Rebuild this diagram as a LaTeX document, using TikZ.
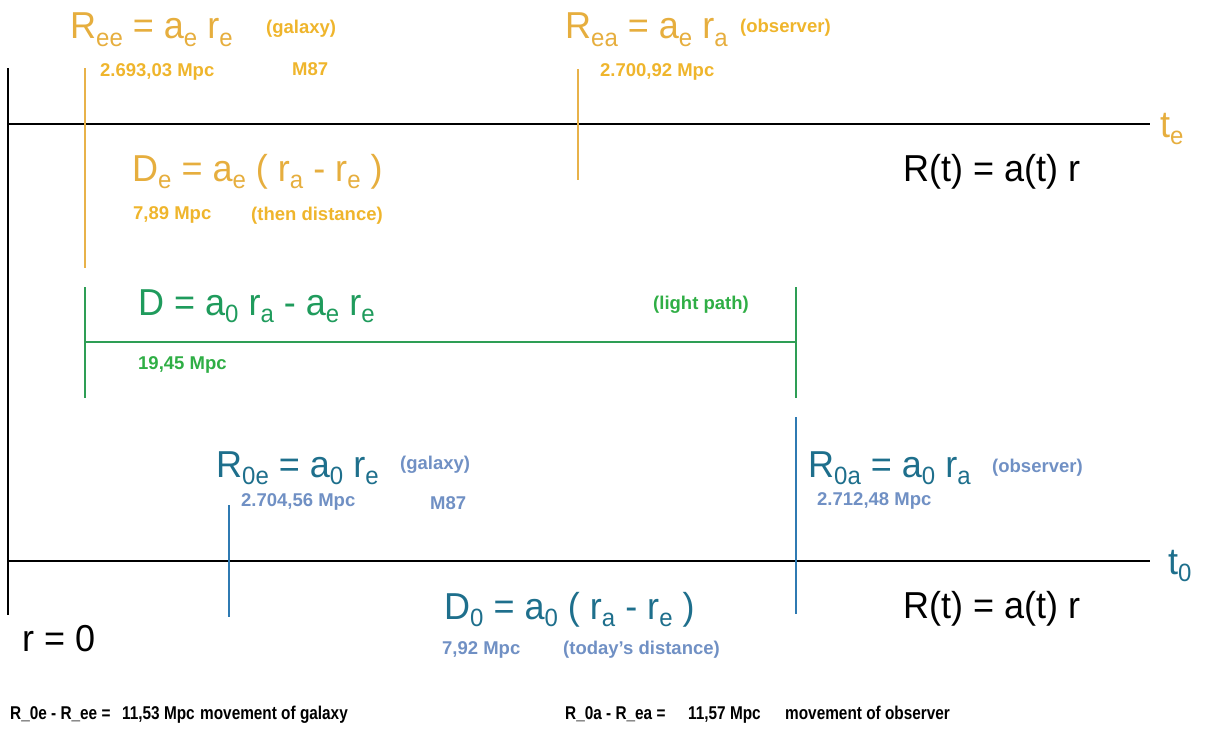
\documentclass[tikz,border=0pt]{standalone}
\usepackage{fontspec}
\setmainfont{Liberation Sans}
\newfontfamily\formfont[FakeStretch=0.96]{Liberation Sans}
\newfontfamily\footfont[FakeStretch=0.83]{Liberation Sans}
\definecolor{orgF}{HTML}{E6AE3E}
\definecolor{orgS}{HTML}{EFB52C}
\definecolor{orgL}{HTML}{E8B24A}
\definecolor{grnF}{HTML}{1F9B5C}
\definecolor{grnS}{HTML}{2FAE45}
\definecolor{grnL}{HTML}{2E9E55}
\definecolor{bluF}{HTML}{1E6F8C}
\definecolor{bluS}{HTML}{7090C4}
\definecolor{bluL}{HTML}{2F7AB2}
\newcommand{\sbs}[1]{\raisebox{-7.5pt}{\fontsize{25}{25}\selectfont #1}}
\tikzset{
  formula/.style={anchor=base west, inner sep=0pt, font=\formfont\fontsize{37.5}{42}\selectfont},
  small/.style={anchor=base west, inner sep=0pt, font=\fontsize{18.5}{21}\selectfont\bfseries},
  axis/.style={draw=black, line width=2pt},
  tickline/.style={line width=1.6pt},
  foot/.style={anchor=base west, inner sep=0pt, font=\footfont\fontsize{18.5}{21}\selectfont\bfseries}
}
\begin{document}
\begin{tikzpicture}[x=1pt,y=-1pt]
\useasboundingbox (0,0) rectangle (1206,752);
% axes
\coordinate (v0) at (8,68);
\coordinate (v1) at (8,615);
\coordinate (te0) at (8,124);
\coordinate (te1) at (1150,124);
\coordinate (t00) at (8,561);
\coordinate (t01) at (1150,561);
\draw[axis] (v0) -- (v1);
\draw[axis] (te0) -- (te1);
\draw[axis] (t00) -- (t01);
\node[formula, text=orgF] (te) at (1160,137) {t\sbs{e}};
\node[formula, text=bluF] (t0) at (1168,574) {t\sbs{0}};
% orange markers
\coordinate (oa0) at (85,68); \coordinate (oa1) at (85,268);
\coordinate (ob0) at (578,69); \coordinate (ob1) at (578,180);
\draw[tickline, orgL] (oa0) -- (oa1);
\draw[tickline, orgL] (ob0) -- (ob1);
% green light path
\coordinate (ga0) at (85,287); \coordinate (ga1) at (85,398);
\coordinate (gb0) at (796,287); \coordinate (gb1) at (796,398);
\coordinate (gm0) at (85,342); \coordinate (gm1) at (796,342);
\draw[tickline, grnL] (ga0) -- (ga1);
\draw[tickline, grnL] (gb0) -- (gb1);
\draw[tickline, grnL] (gm0) -- (gm1);
% blue markers
\coordinate (ba0) at (229,505); \coordinate (ba1) at (229,617);
\coordinate (bb0) at (796,417); \coordinate (bb1) at (796,614);
\draw[tickline, bluL] (ba0) -- (ba1);
\draw[tickline, bluL] (bb0) -- (bb1);
% top (t_e) texts
\node[formula, text=orgF] (ree) at (70,39) {R\sbs{ee} = a\sbs{e} r\sbs{e}};
\node[small, text=orgS] (gal1) at (266,34) {(galaxy)};
\node[small, text=orgS] (v1a) at (100,77) {2.693,03 Mpc};
\node[small, text=orgS] (m87a) at (292,75) {M87};
\node[formula, text=orgF] (rea) at (565,39) {R\sbs{ea} = a\sbs{e} r\sbs{a}};
\node[small, text=orgS] (obs1) at (740,33) {(observer)};
\node[small, text=orgS] (v2a) at (600,77) {2.700,92 Mpc};
\node[formula, text=orgF] (de) at (132,181) {D\sbs{e} = a\sbs{e} ( r\sbs{a} - r\sbs{e} )};
\node[small, text=orgS] (v3a) at (133,219) {7,89 Mpc};
\node[small, text=orgS] (then) at (251,220) {(then distance)};
\node[formula, text=black] (rt1) at (903,181) {R(t) = a(t) r};
% green
\node[formula, text=grnF] (dd) at (138,315) {D = a\sbs{0} r\sbs{a} - a\sbs{e} r\sbs{e}};
\node[small, text=grnS] (lp) at (653,309) {(light path)};
\node[small, text=grnS] (v4) at (138,369) {19,45 Mpc};
% bottom (t_0) texts
\node[formula, text=bluF] (r0e) at (216,477) {R\sbs{0e} = a\sbs{0} r\sbs{e}};
\node[small, text=bluS] (gal2) at (400,469) {(galaxy)};
\node[small, text=bluS] (v5) at (241,506) {2.704,56 Mpc};
\node[small, text=bluS] (m87b) at (430,509) {M87};
\node[formula, text=bluF] (r0a) at (808,477) {R\sbs{0a} = a\sbs{0} r\sbs{a}};
\node[small, text=bluS] (obs2) at (992,472) {(observer)};
\node[small, text=bluS] (v6) at (817,505) {2.712,48 Mpc};
\node[formula, text=bluF] (d0) at (444,619) {D\sbs{0} = a\sbs{0} ( r\sbs{a} - r\sbs{e} )};
\node[small, text=bluS] (v7) at (442,654) {7,92 Mpc};
\node[small, text=bluS] (today) at (563,654) {(today{\char"27}s distance)};
\node[formula, text=black] (rt2) at (903,618) {R(t) = a(t) r};
\node[formula, text=black] (r0) at (22,651) {r = 0};
% footer
\node[foot] (f1a) at (10,719) {R\_0e - R\_ee =};
\node[foot] (f1b) at (122,719) {11,53 Mpc};
\node[foot] (f1c) at (200,719) {movement of galaxy};
\node[foot] (f2a) at (565,719) {R\_0a - R\_ea =};
\node[foot] (f2b) at (688,719) {11,57 Mpc};
\node[foot] (f2c) at (785,719) {movement of observer};
\end{tikzpicture}
\end{document}
